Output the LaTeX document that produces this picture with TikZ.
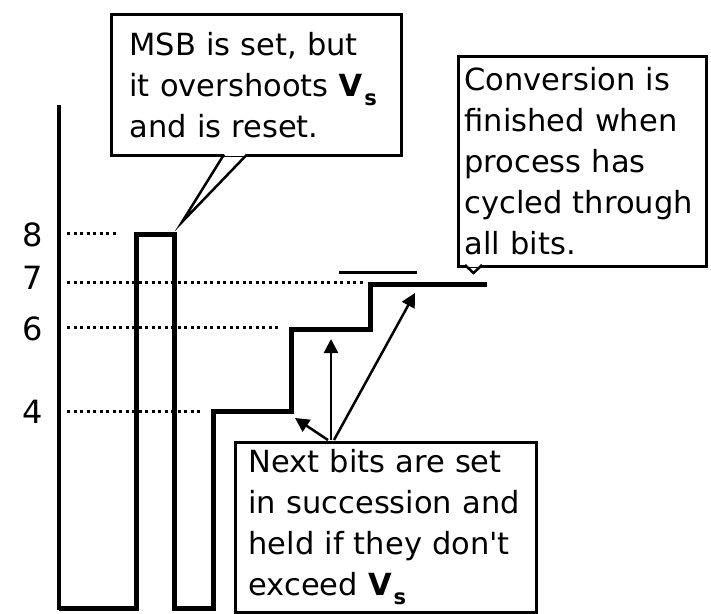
\documentclass[tikz,border=0pt]{standalone}
\usepackage{fontspec}
\setmainfont{DejaVu Sans}
\usetikzlibrary{arrows.meta}
% bold V with a small lowered s
\newcommand\Vsubs{\textbf{V}\kern2pt\raisebox{-9pt}{\fontsize{21}{21}\selectfont\bfseries s}}
\tikzset{
  wave/.style={line width=5pt, line join=miter},
  axisline/.style={line width=4pt},
  levelmark/.style={line width=3pt, dash pattern=on 3pt off 3.5pt},
  levellabel/.style={font=\fontsize{32}{32}\selectfont, inner sep=0pt},
  callout/.style={draw, line width=3pt, fill=white, align=left, anchor=north west,
    inner ysep=0pt, font=\fontsize{30.5}{41}\selectfont},
  tail/.style={line width=2.5pt},
  gapfill/.style={white, line width=3.4pt},
  pointer/.style={line width=2.5pt, -{Triangle[length=14pt,width=14pt]}},
}
\begin{document}
\begin{tikzpicture}[x=1pt,y=-1pt]
\useasboundingbox (0,0) rectangle (711,613);

% level labels
\node[levellabel] (l8) at (33,235) {8};
\node[levellabel] (l7) at (33,278) {7};
\node[levellabel] (l6) at (33,329) {6};
\node[levellabel] (l4) at (33,412) {4};

% dotted level guides
\draw[levelmark] (67,233) -- (116,233);
\draw[levelmark] (67,282) -- (364,282);
\draw[levelmark] (67,327) -- (279,327);
\draw[levelmark] (67,411) -- (201,411);

% vertical axis
\draw[axisline] (59,105) -- (59,610);

% output of the converter
\draw[wave] (59,608) -- (136,608) -- (136,234) -- (174,234) -- (174,608)
  -- (213,608) -- (213,411) -- (291,411) -- (291,329) -- (370,329)
  -- (370,284) -- (487,284);

% level of the input voltage
\draw[line width=3pt] (339,272) -- (417,272);

% callouts
\node[callout, text width=254pt, inner xsep=18pt, minimum height=141pt] (msb) at (110,13)
  {MSB is set, but\\ \mbox{it overshoots \Vsubs}\\ and is reset.};
\node[callout, text width=236pt, inner xsep=6pt, minimum height=210pt] (conv) at (457,55)
  {Conversion is\\ finished when\\ process has\\ \mbox{cycled through}\\ all bits.};
\node[callout, text width=275pt, inner xsep=13pt, minimum height=170pt] (next) at (234,441)
  {\mbox{Next bits are set}\\ \mbox{in succession and}\\ \mbox{held if they don\textquotesingle t}\\ exceed \Vsubs};

% callout tails
\coordinate (msbl) at (224,154.5);
\coordinate (msbr) at (247,154.5);
\coordinate (msbtip) at (182,222);
\draw[gapfill] (msbl) -- (msbr);
\draw[tail] (msbl) -- (msbtip) -- (msbr);

\coordinate (convl) at (465,265);
\coordinate (convr) at (482,265);
\coordinate (convtip) at (473.5,273);
\draw[gapfill] (convl) -- (convr);
\draw[tail] (convl) -- (convtip) -- (convr);

% pointers from the lower callout
\coordinate (p1) at (328,440);
\coordinate (p2) at (331,440);
\coordinate (p3) at (334,440);
\coordinate (h1) at (295,418);
\coordinate (h2) at (331,339);
\coordinate (h3) at (415,293);
\draw[pointer] (p1) -- (h1);
\draw[pointer] (p2) -- (h2);
\draw[pointer] (p3) -- (h3);
\end{tikzpicture}
\end{document}
